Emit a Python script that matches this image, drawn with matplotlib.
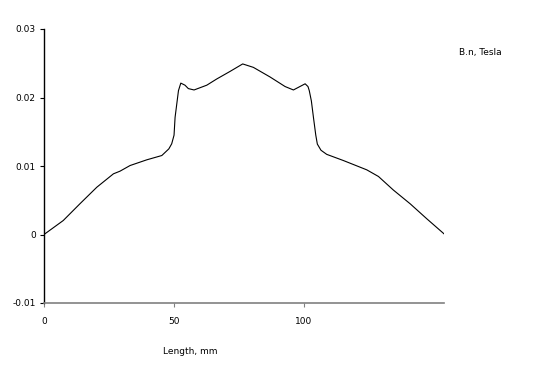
import matplotlib
matplotlib.use("Agg")
import matplotlib.pyplot as plt

length_mm = [0, 7.4, 13.8, 20.3, 26.7, 29.2, 33.1, 39.5, 45.3, 48.0, 49.1, 50.0, 50.4, 51.2, 51.7, 52.6,
             54.2, 55.5, 57.7, 62.6, 66.4, 71.5, 76.4, 80.5, 86.9, 92.7, 95.9, 100.4,
             101.5, 102.0, 102.8, 103.6, 104.5, 105.1, 106.5, 108.7, 115.1, 124.1, 128.6, 134.3, 140.8, 147.2, 153.8]
b_n = [0.0, 0.00204, 0.00448, 0.0069, 0.00886, 0.00924, 0.01007, 0.0109, 0.01153, 0.0125, 0.01324, 0.0145,
       0.0171, 0.0195, 0.0210, 0.0221, 0.0218, 0.0213, 0.0211, 0.0218, 0.0227, 0.0238, 0.0249,
       0.0244, 0.0230, 0.0216, 0.0211, 0.0220, 0.0216, 0.0210, 0.0195, 0.0171, 0.0145, 0.0132, 0.0123, 0.0117, 0.0108,
       0.00944, 0.00847, 0.0065, 0.00448, 0.00229, 0.0001]

x_ticks = [0, 50, 100]
y_ticks = [-0.01, 0, 0.01, 0.02, 0.03]
y_tick_labels = ["-0.01", "0", "0.01", "0.02", "0.03"]

plt.rcParams['font.family'] = ['DejaVu Sans']
fig = plt.figure(figsize=(5.49, 3.70), dpi=100)
ax = fig.add_axes([44/549, 1-303/370, 400/549, 274/370])
ax.plot(length_mm, b_n, color='black', lw=0.8)
ax.set_xlim(0, 153.8)
ax.set_ylim(-0.01, 0.03)
ax.set_xticks(x_ticks)
ax.set_xticklabels([str(t) for t in x_ticks])
ax.set_yticks(y_ticks)
ax.set_yticklabels(y_tick_labels)
for s in ['top', 'right']:
    ax.spines[s].set_visible(False)
ax.spines['left'].set_color('black')
ax.spines['left'].set_linewidth(1.0)
ax.spines['bottom'].set_color('#808080')
ax.spines['bottom'].set_linewidth(1.2)
ax.tick_params(axis='both', direction='out', length=3, width=0.8, labelsize=6.5)
ax.tick_params(axis='y', pad=3)
ax.tick_params(axis='x', colors='#808080', labelcolor='black', pad=7)
fig.text(480/549, 1-52/370, "B.n, Tesla", fontsize=6.5, ha='center', va='center')
fig.text(190/549, 1-352/370, "Length, mm", fontsize=6.5, ha='center', va='center')
fig.savefig("out.png", dpi=100)
